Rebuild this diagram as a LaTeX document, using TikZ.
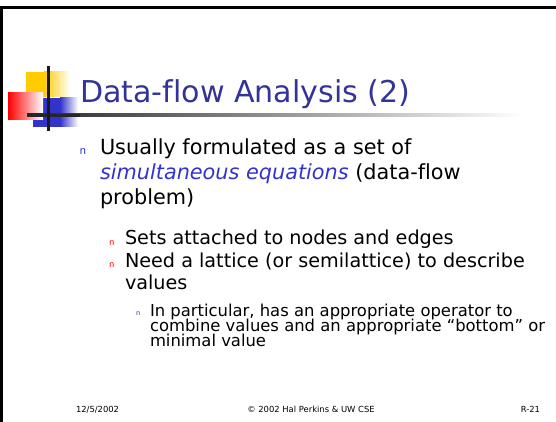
\documentclass[tikz,border=0pt]{standalone}
\usepackage{fontspec}
\setmainfont{DejaVu Sans}[Ligatures={NoCommon}]
\newfontfamily\bulletfont{Liberation Mono}
\definecolor{titleblue}{HTML}{333399}
\definecolor{accentblue}{HTML}{3333CC}
\definecolor{logoyellow}{HTML}{FFCC00}
\definecolor{logored}{HTML}{FF0000}
\begin{document}
\begin{tikzpicture}[x=1pt,y=-1pt,
  txt/.style={anchor=base west,inner sep=0pt,outer sep=0pt},
  lvlone/.style={txt,font=\fontsize{20.8}{24}\selectfont},
  lvltwo/.style={txt,font=\fontsize{19.2}{22}\selectfont},
  lvlthree/.style={txt,font=\fontsize{16.4}{18}\selectfont},
  foot/.style={txt,font=\fontsize{8.4}{10}\selectfont},
  bul/.style={txt,font=\bulletfont}]
\useasboundingbox (0,0) rectangle (556,422);
\fill[white] (0,0) rectangle (556,422);
% slide frame
\fill[black] (0,6) rectangle (556,9);
\fill[black] (0,6) rectangle (3,422);
% logo squares
\fill[logoyellow] (26,72) rectangle (44,97);
\shade[left color=logoyellow,right color=white] (44,72) rectangle (70,97);
\fill[accentblue] (33,98) rectangle (60,127);
\shade[left color=accentblue,right color=white] (60,98) rectangle (78,127);
\shade[shading angle=135,left color=logored,right color=white] (8,93) rectangle (43,120);
% logo rules
\shade[left color=black!85,right color=white] (27,114) rectangle (523,117);
\fill[black!85] (27,114) rectangle (80,117);
\fill[black!90] (47,66) rectangle (49.5,131);
% title
\node[txt,font=\fontsize{30.1}{36}\selectfont,text=titleblue] (title) at (80,103) {Data-flow Analysis (2)};
% first level
\node[bul,font=\bulletfont\fontsize{11}{12}\selectfont,text=accentblue] (b1) at (79.5,155) {n};
\node[lvlone] (l1a) at (100,154) {Usually formulated as a set of};
\node[lvlone] (l1b) at (100,179) {\textcolor{accentblue}{\itshape simultaneous equations} (data-flow};
\node[lvlone] (l1c) at (100,204) {problem)};
% second level
\node[bul,font=\bulletfont\fontsize{9}{10}\selectfont,text=logored] (b2) at (109,245) {n};
\node[lvltwo] (l2a) at (125,244.5) {Sets attached to nodes and edges};
\node[bul,font=\bulletfont\fontsize{9}{10}\selectfont,text=logored] (b3) at (109,267.5) {n};
\node[lvltwo] (l2b) at (125,267) {Need a lattice (or semilattice) to describe};
\node[lvltwo] (l2c) at (125,289) {values};
% third level
\node[bul,font=\bulletfont\fontsize{7}{8}\selectfont,text=accentblue] (b4) at (136,315.5) {n};
\node[lvlthree] (l3a) at (150,316) {In particular, has an appropriate operator to};
\node[lvlthree] (l3b) at (150,331) {combine values and an appropriate “bottom” or};
\node[lvlthree] (l3c) at (150,346.5) {minimal value};
% footer
\node[foot] (date) at (76,412) {12/5/2002};
\node[foot,anchor=base] (copy) at (311,412) {© 2002 Hal Perkins \& UW CSE};
\node[foot,anchor=base east] (page) at (540,412) {R-21};
\end{tikzpicture}
\end{document}
